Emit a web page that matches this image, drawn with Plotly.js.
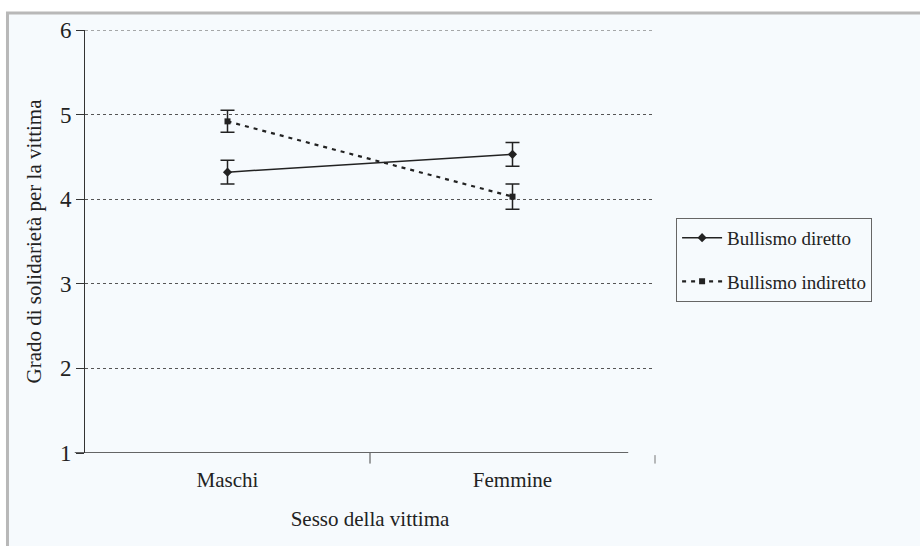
<!DOCTYPE html>
<html>
<head>
<meta charset="utf-8">
<script src="https://cdn.plot.ly/plotly-3.0.1.min.js"></script>
<style>
  html, body { margin: 0; padding: 0; background: #ffffff; }
  #chart { width: 920px; height: 546px; }
</style>
</head>
<body>
<div id="chart"></div>
<script>
const categories = ["Maschi", "Femmine"];
const seriesNames = ["Bullismo diretto", "Bullismo indiretto"];
const diretto = [4.32, 4.53];
const direttoErr = [0.14, 0.14];
const indiretto = [4.92, 4.03];
const indirettoErr = [0.13, 0.15];
const yTicks = [1, 2, 3, 4, 5, 6];

const serif = "Liberation Serif, Times New Roman, serif";
const ink = "#222222";

const traces = [
  {
    type: "scatter", mode: "lines+markers", name: seriesNames[0], legendgroup: "g1",
    x: categories, y: diretto,
    line: { color: ink, width: 1.5, dash: "solid" },
    marker: { symbol: "diamond", size: 7, color: ink },
    error_y: { type: "data", array: direttoErr, visible: true, color: ink, thickness: 1.5, width: 7 }
  },
  {
    type: "scatter", mode: "lines+markers", name: seriesNames[1], legendgroup: "g2",
    x: categories, y: indiretto,
    line: { color: ink, width: 2.2, dash: "4px,5px" },
    marker: { symbol: "square", size: 6, color: ink },
    error_y: { type: "data", array: indirettoErr, visible: true, color: ink, thickness: 1.5, width: 7 }
  }
];

const layout = {
  width: 920, height: 546,
  paper_bgcolor: "#ffffff",
  plot_bgcolor: "rgba(0,0,0,0)",
  margin: { l: 85, r: 265, t: 30, b: 93 },
  font: { family: serif, color: ink, size: 20 },
  showlegend: true,
  legend: {
    x: 1.037, y: 0.556, xanchor: "left", yanchor: "top",
    bgcolor: "#f6fafd", bordercolor: "#666666", borderwidth: 1,
    font: { family: serif, size: 19, color: ink },
    tracegroupgap: 16, itemwidth: 40
  },
  xaxis: {
    type: "category", range: [-0.5, 1.5],
    showgrid: false, zeroline: false, showline: false,
    ticks: "", ticklabelstandoff: 12,
    tickfont: { family: serif, size: 21, color: ink },
    title: { text: "Sesso della vittima", font: { family: serif, size: 21, color: ink }, standoff: 20 }
  },
  yaxis: {
    range: [1, 6], tickvals: yTicks, ticktext: yTicks.map(String),
    showgrid: true, gridcolor: "#555555", griddash: "dot", gridwidth: 1,
    zeroline: false, showline: true, linecolor: "#333333", linewidth: 1,
    ticks: "outside", ticklen: 8, tickcolor: "#333333",
    tickfont: { family: serif, size: 23, color: ink },
    title: { text: "Grado di solidarietà per la vittima", font: { family: serif, size: 21, color: ink }, standoff: 12 }
  },
  shapes: [
    { type: "rect", xref: "paper", yref: "paper", x0: -0.136, x1: 1.5, y0: -0.3, y1: 1.04,
      fillcolor: "#f6fafd", line: { color: "#b8b8b8", width: 3 }, layer: "below" },
    { type: "line", xref: "paper", yref: "y", x0: 0, x1: 1, y0: 6, y1: 6,
      line: { color: "#555555", width: 1, dash: "dot" } },
    { type: "line", xref: "paper", yref: "y", x0: -0.018, x1: 0.953, y0: 1, y1: 1,
      line: { color: "#333333", width: 1.5 } },
    { type: "line", xref: "paper", yref: "paper", x0: 1.0, x1: 1.0, y0: -0.005, y1: -0.025,
      line: { color: "#777777", width: 1 } },
    { type: "line", xref: "paper", yref: "paper", x0: 0.5, x1: 0.5, y0: 0.0, y1: -0.025,
      line: { color: "#444444", width: 1 } }
  ]
};

Plotly.newPlot("chart", traces, layout, { displayModeBar: false, staticPlot: true });
</script>
</body>
</html>
